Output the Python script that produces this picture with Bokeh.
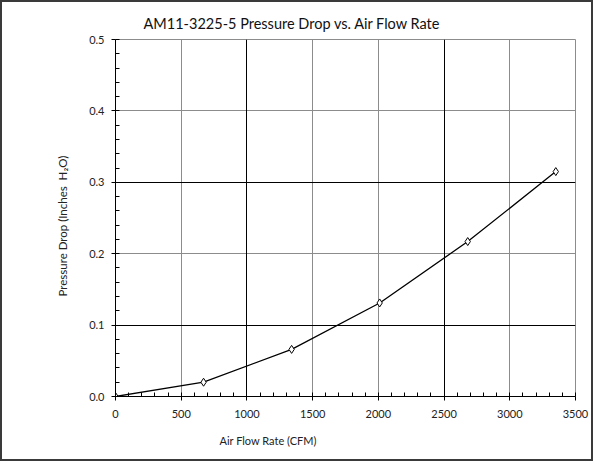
from bokeh.plotting import figure
from bokeh.models import Range1d, SingleIntervalTicker, FixedTicker, Grid, PrintfTickFormatter, Title
from bokeh.embed import file_html
from bokeh.resources import INLINE

# Data
flow_cfm = [0, 670, 1340, 2010, 2680, 3350]
pressure_drop = [0.0, 0.020, 0.066, 0.131, 0.217, 0.315]

title_text = "AM11-3225-5 Pressure Drop vs. Air Flow Rate"
x_label = "Air Flow Rate (CFM)"
y_label = "Pressure Drop (Inches\u00a0 H\u2082O)"

FONT = "Lato"

p = figure(width=593, height=461, output_backend="svg", toolbar_location=None,
           x_range=Range1d(0, 3500), y_range=Range1d(0, 0.5),
           min_border_left=113, min_border_right=20, min_border_top=37, min_border_bottom=67)
p.styles = {"border": "2px solid #3a3a3a"}
p.background_fill_color = "white"
p.border_fill_color = "white"
p.outline_line_color = "#8c8c8c"
p.outline_line_width = 1

t = Title(text=title_text, align="left", offset=28, text_font=FONT,
          text_font_size="14.5px", text_font_style="normal", text_color="#111111", standoff=16)
p.add_layout(t, "above")

# axes
p.xaxis.ticker = SingleIntervalTicker(interval=500, num_minor_ticks=5)
p.yaxis.ticker = SingleIntervalTicker(interval=0.1, num_minor_ticks=5)
p.yaxis.formatter = PrintfTickFormatter(format="%.1f")
for ax in (p.xaxis[0], p.yaxis[0]):
    ax.axis_line_color = "black"
    ax.axis_line_width = 1
    ax.major_tick_line_color = "black"
    ax.minor_tick_line_color = "black"
    ax.major_tick_in = 0
    ax.major_tick_out = 4
    ax.minor_tick_in = 4
    ax.minor_tick_out = 0
    ax.major_label_text_font = FONT
    ax.major_label_text_font_size = "11px"
    ax.major_label_text_color = "#222222"
p.xaxis.major_label_standoff = 9
p.yaxis.major_label_standoff = 7

# axis titles, placed off-centre as in the original
xt = Title(text=x_label, align="left", offset=104, text_font=FONT, text_font_size="11px",
           text_font_style="normal", text_color="#222222", standoff=22)
p.add_layout(xt, "below")
yt = Title(text=y_label, align="left", offset=100, text_font=FONT, text_font_size="11.5px",
           text_font_style="normal", text_color="#222222", standoff=36)
p.add_layout(yt, "left")

# grids
p.xgrid.grid_line_color = "#8c8c8c"
p.ygrid.grid_line_color = "#8c8c8c"
p.xgrid.ticker = SingleIntervalTicker(interval=500)
p.ygrid.ticker = SingleIntervalTicker(interval=0.1)
p.add_layout(Grid(dimension=0, ticker=FixedTicker(ticks=[1000, 2500]), grid_line_color="black"))
p.add_layout(Grid(dimension=1, ticker=FixedTicker(ticks=[0.1, 0.3]), grid_line_color="black"))

p.line(flow_cfm, pressure_drop, line_color="black", line_width=1.3)
p.scatter(flow_cfm, pressure_drop, marker="diamond", size=8, fill_color="white",
          line_color="black", line_width=1)

open("out.html", "w").write(file_html(p, INLINE))
